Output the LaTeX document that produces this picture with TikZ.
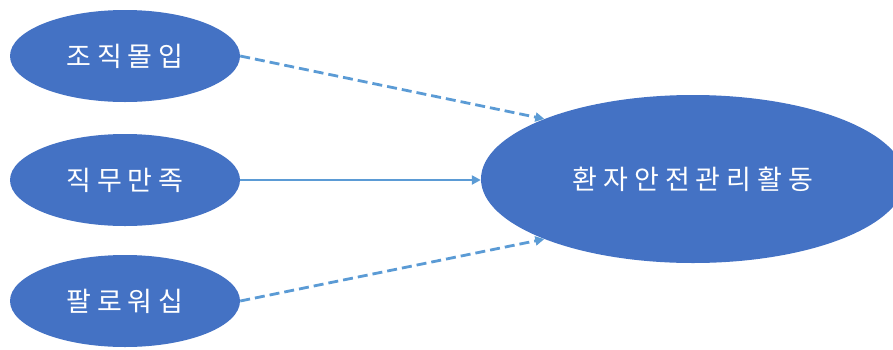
\documentclass[tikz,border=0pt]{standalone}
\usepackage{fontspec}
\newfontfamily\kr[LetterSpace=22]{Noto Sans CJK KR}
\usetikzlibrary{shapes.geometric,arrows.meta}
\definecolor{ellblue}{HTML}{4472C4}
\definecolor{arrblue}{HTML}{5B9BD5}
\tikzset{
  ell/.style={ellipse, fill=ellblue, draw=none, inner sep=0pt, text=white,
    font=\kr\fontsize{27}{31}\selectfont},
  small/.style={ell, minimum width=230pt, minimum height=92pt},
  big/.style={ell, minimum width=424pt, minimum height=168pt},
  conn/.style={draw=arrblue, line width=2.8pt, -{Triangle[length=9pt,width=9pt]}},
  dashconn/.style={conn, dash pattern=on 10pt off 5pt}
}
\begin{document}
\begin{tikzpicture}[x=1pt,y=-1pt]
\useasboundingbox (0,0) rectangle (893,349);
\clip (0,0) rectangle (893,349);
\node[small] (a) at (125,56) {조직몰입};
\node[small] (b) at (125,180) {직무만족};
\node[small] (d) at (125,301) {팔로워십};
\node[big] (c) at (693,179) {환자안전관리활동};
\draw[dashconn] (a.east) -- (c.158);
\draw[conn] (b.east) -- (c.west |- b.east);
\draw[dashconn] (d.east) -- (c.202);
\end{tikzpicture}
\end{document}
